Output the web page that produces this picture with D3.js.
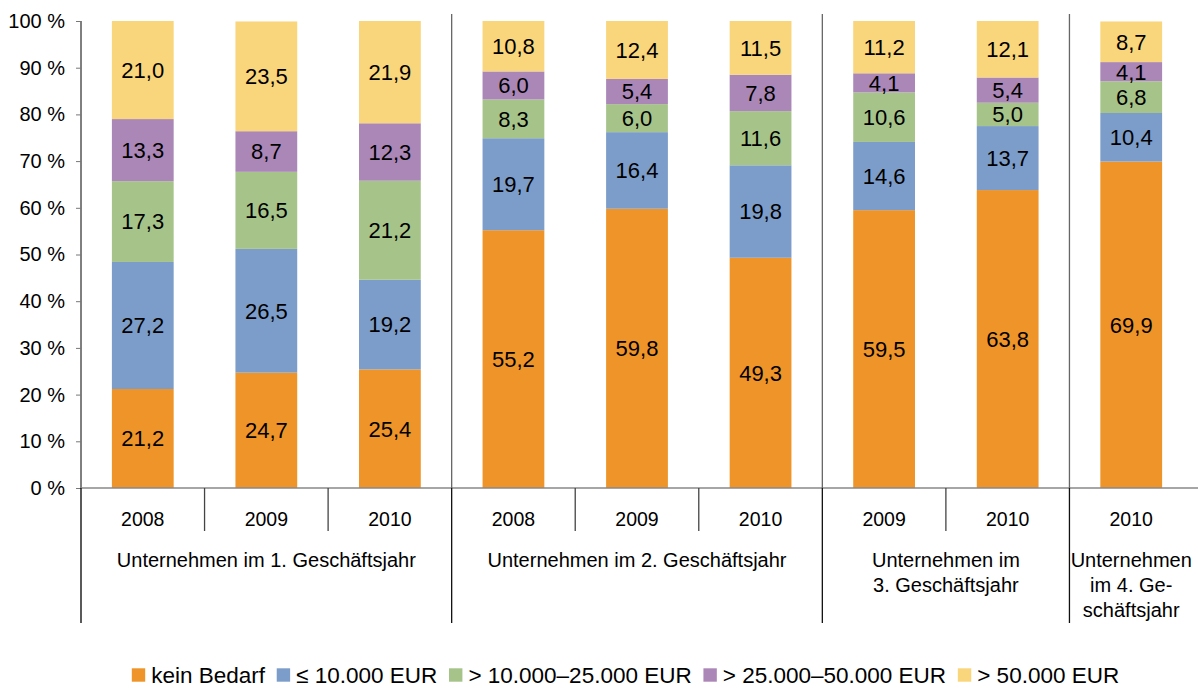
<!DOCTYPE html>
<html>
<head>
<meta charset="utf-8">
<script src="https://cdn.jsdelivr.net/npm/d3@7"></script>
<style>
  body { margin: 0; background: #fff; }
  svg { display: block; font-family: 'Liberation Sans', Arial, sans-serif; }
</style>
</head>
<body>
<svg id="chart" width="1198" height="688"></svg>
<script>
// data (bottom segment first)
const years = ['2008', '2009', '2010', '2008', '2009', '2010', '2009', '2010', '2010'];
const groupSizes = [3, 3, 2, 1];
const groupLabels = [
  ['Unternehmen im 1. Geschäftsjahr'],
  ['Unternehmen im 2. Geschäftsjahr'],
  ['Unternehmen im', '3. Geschäftsjahr'],
  ['Unternehmen', 'im 4. Ge-', 'schäftsjahr']
];
const seriesNames = ['kein Bedarf', '≤ 10.000 EUR', '> 10.000–25.000 EUR', '> 25.000–50.000 EUR', '> 50.000 EUR'];
const keinBedarf = [21.2, 24.7, 25.4, 55.2, 59.8, 49.3, 59.5, 63.8, 69.9];
const bis10k     = [27.2, 26.5, 19.2, 19.7, 16.4, 19.8, 14.6, 13.7, 10.4];
const bis25k     = [17.3, 16.5, 21.2, 8.3, 6.0, 11.6, 10.6, 5.0, 6.8];
const bis50k     = [13.3, 8.7, 12.3, 6.0, 5.4, 7.8, 4.1, 5.4, 4.1];
const ueber50k   = [21.0, 23.5, 21.9, 10.8, 12.4, 11.5, 11.2, 12.1, 8.7];
const yTicks = [0, 10, 20, 30, 40, 50, 60, 70, 80, 90, 100];

const colors = ['#EF9429', '#7C9DC9', '#A6C48A', '#AB87B8', '#F9D57B'];
const seriesValues = [keinBedarf, bis10k, bis25k, bis50k, ueber50k];

const rows = years.map((yr, i) => {
  const r = {idx: i, year: yr};
  seriesValues.forEach((s, k) => r['s' + k] = s[i]);
  return r;
});
const keys = seriesNames.map((d, k) => 's' + k);

const m = {left: 81, right: 1193, top: 21, bottom: 488};
const svg = d3.select('#chart');

const x = d3.scaleBand()
  .domain(rows.map(d => d.idx))
  .range([m.left, m.right])
  .paddingInner(0.5)
  .paddingOuter(0.25);
const y = d3.scaleLinear().domain([0, 100]).range([m.bottom, m.top]);

const stack = d3.stack().keys(keys)(rows);

// bars
const layers = svg.append('g').selectAll('g')
  .data(stack)
  .join('g')
  .attr('fill', (d, k) => colors[k]);

layers.selectAll('rect')
  .data(d => d)
  .join('rect')
  .attr('x', d => x(d.data.idx))
  .attr('width', x.bandwidth())
  .attr('y', d => y(d[1]))
  .attr('height', d => y(d[0]) - y(d[1]));

// value labels
layers.selectAll('text')
  .data(d => d)
  .join('text')
  .attr('x', d => x(d.data.idx) + x.bandwidth() / 2)
  .attr('y', d => (y(d[0]) + y(d[1])) / 2)
  .attr('dy', '0.36em')
  .attr('text-anchor', 'middle')
  .attr('font-size', 22)
  .attr('fill', '#000')
  .text(d => d3.format('.1f')(d[1] - d[0]).replace('.', ','));

// y axis
const yAxis = svg.append('g')
  .attr('transform', `translate(${m.left},0)`)
  .call(d3.axisLeft(y).tickValues(yTicks).tickSize(5).tickPadding(11).tickFormat(d => d + ' %'));
yAxis.attr('font-family', null).attr('font-size', null);
yAxis.select('.domain').attr('stroke', '#000').attr('d', `M0,${m.top}V${m.bottom}`);
yAxis.selectAll('.tick line').attr('stroke', '#777');
yAxis.selectAll('.tick text').attr('font-size', 20).attr('fill', '#000');

const step = x.step();
const lowBottom = 623;

// x axis line
svg.append('line')
  .attr('x1', m.left).attr('x2', 1198)
  .attr('y1', m.bottom).attr('y2', m.bottom)
  .attr('stroke', '#888').attr('stroke-width', 1.5);

// left border under axis
svg.append('line')
  .attr('x1', m.left).attr('x2', m.left)
  .attr('y1', m.bottom).attr('y2', lowBottom)
  .attr('stroke', '#000').attr('stroke-width', 1.3);

// group dividers and labels
let start = 0;
groupSizes.forEach((n, g) => {
  const gx0 = m.left + start * step;
  const gx1 = gx0 + n * step;
  if (g > 0) {
    svg.append('line')
      .attr('x1', gx0).attr('x2', gx0)
      .attr('y1', 14).attr('y2', m.bottom)
      .attr('stroke', '#666').attr('stroke-width', 1.3);
    svg.append('line')
      .attr('x1', gx0).attr('x2', gx0)
      .attr('y1', m.bottom).attr('y2', lowBottom)
      .attr('stroke', '#111').attr('stroke-width', 1.3);
  }
  for (let j = 1; j < n; j++) {
    const tx = gx0 + j * step;
    svg.append('line')
      .attr('x1', tx).attr('x2', tx)
      .attr('y1', m.bottom).attr('y2', 531)
      .attr('stroke', '#444').attr('stroke-width', 1.3);
  }
  const t = svg.append('text')
    .attr('text-anchor', 'middle')
    .attr('font-size', 20)
    .attr('fill', '#000');
  groupLabels[g].forEach((line, li) => {
    t.append('tspan')
      .attr('x', (gx0 + gx1) / 2)
      .attr('y', 567 + li * 25)
      .text(line);
  });
  start += n;
});

// year labels
svg.append('g').selectAll('text')
  .data(rows)
  .join('text')
  .attr('x', d => x(d.idx) + x.bandwidth() / 2)
  .attr('y', 526)
  .attr('text-anchor', 'middle')
  .attr('font-size', 19.5)
  .text(d => d.year);

// legend
const legend = svg.append('g');
let lx = 0;
seriesNames.forEach((name, k) => {
  const item = legend.append('g').attr('transform', `translate(${lx},0)`);
  item.append('rect')
    .attr('x', 0).attr('y', -6.7)
    .attr('width', 13.4).attr('height', 13.4)
    .attr('fill', colors[k]);
  const txt = item.append('text')
    .attr('x', 19.4).attr('dy', '0.36em')
    .attr('font-size', 22.5)
    .text(name);
  lx += 19.4 + txt.node().getComputedTextLength() + 11.7;
});
const legW = lx - 11.7;
legend.attr('transform', `translate(${625.5 - legW / 2},675)`);
</script>
</body>
</html>
